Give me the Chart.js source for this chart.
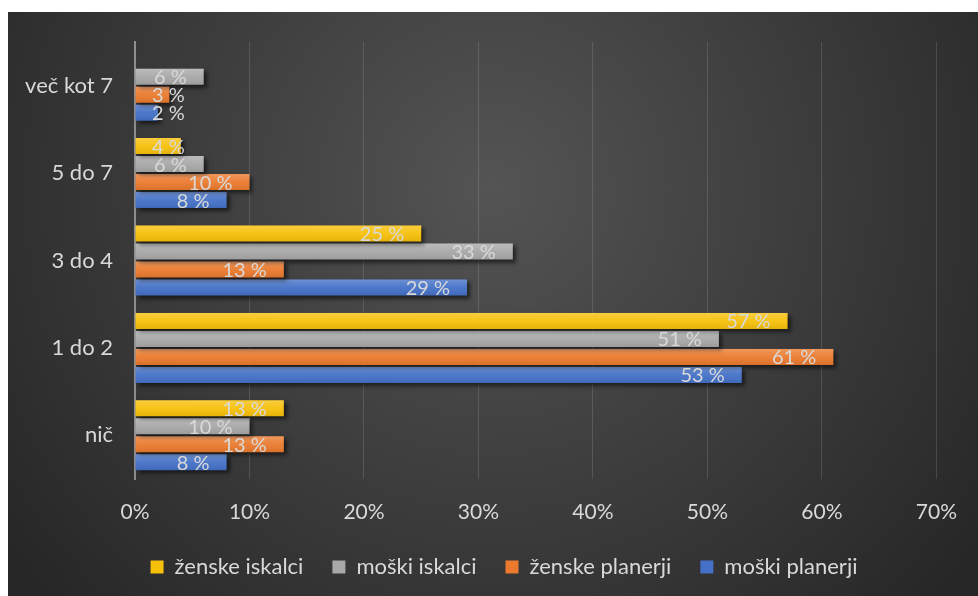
<!DOCTYPE html>
<html lang="sl">
<head>
<meta charset="utf-8">
<title>Graf</title>
<script src="https://cdn.jsdelivr.net/npm/chart.js@4.4.1/dist/chart.umd.min.js"></script>
<style>
    html, body { margin: 0; padding: 0; background: #ffffff; }
    #wrap { position: absolute; left: 8px; top: 12px; width: 970px; height: 584px; }
</style>
</head>
<body>
<div id="wrap"><canvas id="graf"></canvas></div>
<script>
// Podatki (odstotki)
const kategorije = ['več kot 7', '5 do 7', '3 do 4', '1 do 2', 'nič'];
const zenskeIskalci = [null, 4, 25, 57, 13];
const moskiIskalci = [6, 6, 33, 51, 10];
const zenskePlanerji = [3, 10, 13, 61, 13];
const moskiPlanerji = [2, 8, 29, 53, 8];
const xTicks = [0, 10, 20, 30, 40, 50, 60, 70];

const FONT = 'Lato, "Open Sans", sans-serif';
const TEXT = '#d9d9d9';

// Ozadje - temen radialni preliv
const ozadje = {
    id: 'ozadje',
    beforeDraw(chart) {
        const { ctx, width, height } = chart;
        const g = ctx.createRadialGradient(width * 0.5, height * 0.3, 0, width * 0.5, height * 0.3, width * 0.62);
        g.addColorStop(0, '#545454');
        g.addColorStop(1, '#272727');
        ctx.save();
        ctx.fillStyle = g;
        ctx.fillRect(0, 0, width, height);
        ctx.restore();
    },
    // legenda je v izvirniku nekoliko desno od sredine
    afterLayout(chart) {
        if (chart.legend) {
            chart.legend.left += 30;
            chart.legend.right += 30;
        }
    }
};

// Senca pod stolpci, sijaj in oznake vrednosti
const stolpci = {
    id: 'stolpci',
    beforeDatasetsDraw(chart) {
        const ctx = chart.ctx;
        ctx.save();
        ctx.shadowColor = 'rgba(0,0,0,0.55)';
        ctx.shadowBlur = 4;
        ctx.shadowOffsetX = 3;
        ctx.shadowOffsetY = 3;
    },
    afterDatasetsDraw(chart) {
        const ctx = chart.ctx;
        ctx.restore();
        const levo = chart.chartArea.left;
        chart.data.datasets.forEach((ds, i) => {
            const meta = chart.getDatasetMeta(i);
            meta.data.forEach((bar, j) => {
                const v = ds.data[j];
                if (v === null) return;
                const top = bar.y - bar.height / 2;
                // svetlejši zgornji del stolpca
                const g = ctx.createLinearGradient(0, top, 0, top + bar.height);
                g.addColorStop(0, 'rgba(255,255,255,0.22)');
                g.addColorStop(0.5, 'rgba(255,255,255,0.05)');
                g.addColorStop(1, 'rgba(0,0,0,0.08)');
                ctx.fillStyle = g;
                ctx.fillRect(bar.base, top, bar.x - bar.base, bar.height);

                ctx.font = '20px ' + FONT;
                ctx.fillStyle = TEXT;
                ctx.textBaseline = 'middle';
                ctx.textAlign = 'right';
                const txt = v + ' %';
                const w = ctx.measureText(txt).width;
                let desno = bar.x - 17;
                if (desno - w < levo + 17) desno = levo + 17 + w;
                ctx.fillText(txt, desno, bar.y + 1);
            });
        });
    }
};

const ctx = document.getElementById('graf').getContext('2d');
new Chart(ctx, {
    type: 'bar',
    data: {
        labels: kategorije,
        datasets: [
            { label: 'ženske iskalci', data: zenskeIskalci, backgroundColor: '#f7c00a' },
            { label: 'moški iskalci', data: moskiIskalci, backgroundColor: '#a8a8a8' },
            { label: 'ženske planerji', data: zenskePlanerji, backgroundColor: '#eb7a2e' },
            { label: 'moški planerji', data: moskiPlanerji, backgroundColor: '#4471c7' }
        ]
    },
    options: {
        indexAxis: 'y',
        responsive: true,
        maintainAspectRatio: false,
        animation: false,
        datasets: {
            bar: { categoryPercentage: 0.824, barPercentage: 0.89 }
        },
        layout: { padding: { top: 30, right: 38, bottom: 8, left: 0 } },
        scales: {
            x: {
                min: 0,
                max: 70,
                afterBuildTicks(scale) { scale.ticks = xTicks.map(v => ({ value: v })); },
                afterFit(scale) { scale.height = 48; },
                grid: { color: 'rgba(255,255,255,0.13)', lineWidth: 1, drawTicks: false },
                border: { display: false },
                ticks: {
                    color: TEXT,
                    font: { family: FONT, size: 21 },
                    padding: 21,
                    callback: v => v + '%'
                }
            },
            y: {
                afterFit(scale) {
                    scale.width = 127;
                    scale.paddingTop = 0;
                    scale.paddingBottom = 0;
                },
                grid: { display: false, drawTicks: false },
                border: { display: true, color: '#8d8d8d', width: 2 },
                ticks: {
                    color: TEXT,
                    font: { family: FONT, size: 22 },
                    padding: 22
                }
            }
        },
        plugins: {
            tooltip: { enabled: false },
            legend: {
                position: 'bottom',
                labels: {
                    color: TEXT,
                    font: { family: FONT, size: 22 },
                    boxWidth: 13,
                    boxHeight: 13,
                    padding: 29
                }
            }
        }
    },
    plugins: [ozadje, stolpci]
});
</script>
</body>
</html>
